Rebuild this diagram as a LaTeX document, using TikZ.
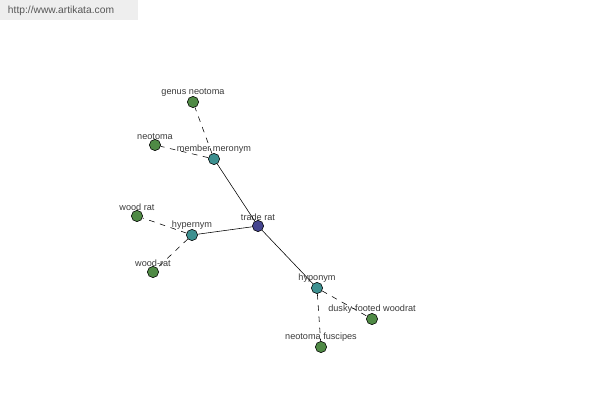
\documentclass[tikz,border=0pt]{standalone}
\usepackage{fontspec}
\setmainfont{Liberation Sans}
\usepackage{xcolor}
\usetikzlibrary{positioning}
\definecolor{leafgreen}{HTML}{4F8A45}
\definecolor{relteal}{HTML}{3D9090}
\definecolor{rootblue}{HTML}{45458F}
\definecolor{labelgrey}{HTML}{3A3A3A}
\definecolor{bannergrey}{HTML}{EEEEEE}

\begin{document}
\begin{tikzpicture}[
    x=0.025cm, y=-0.025cm,
    % Node styles
    wordnode/.style={circle, draw=black, thin, inner sep=0pt, minimum size=8pt,
        label={[font=\fontsize{6.5}{7}\selectfont, text=labelgrey, inner sep=1pt, label distance=-1.3pt]above:#1}},
    leaf/.style={wordnode=#1, fill=leafgreen},
    relation/.style={wordnode=#1, fill=relteal},
    root/.style={wordnode=#1, fill=rootblue},
    % Edge styles
    mainlink/.style={draw=black, thin},
    sublink/.style={draw=black, thin, dash pattern=on 4pt off 4pt},
]
\useasboundingbox (0,0) rectangle (600,400);

% ============================================================================
% BANNER
% ============================================================================
\fill[bannergrey] (0,0) rectangle (138,20);
\node[font=\fontsize{7.3}{8}\selectfont, text=labelgrey!85] (banner) at (61,11) {http://www.artikata.com};

% ============================================================================
% NODES
% ============================================================================
\node[root=trade rat] (traderat) at (258,226) {};

\node[relation=member meronym] (meronym) at (214,159) {};
\node[relation=hypernym] (hypernym) at (192,235) {};
\node[relation=hyponym] (hyponym) at (317,288) {};

\node[leaf=genus neotoma] (genusneotoma) at (193,102) {};
\node[leaf=neotoma] (neotoma) at (155,145) {};
\node[leaf=wood rat] (woodrat) at (137,216) {};
\node[leaf=wood-rat] (woodrathyph) at (153,272) {};
\node[leaf=dusky-footed woodrat] (duskywoodrat) at (372,319) {};
\node[leaf=neotoma fuscipes] (fuscipes) at (321,347) {};

% ============================================================================
% LINKS
% ============================================================================
\draw[mainlink] (traderat) -- (meronym);
\draw[mainlink] (traderat) -- (hypernym);
\draw[mainlink] (traderat) -- (hyponym);

\draw[sublink] (meronym) -- (genusneotoma);
\draw[sublink] (meronym) -- (neotoma);
\draw[sublink] (hypernym) -- (woodrat);
\draw[sublink] (hypernym) -- (woodrathyph);
\draw[sublink] (hyponym) -- (duskywoodrat);
\draw[sublink] (hyponym) -- (fuscipes);

\end{tikzpicture}
\end{document}
